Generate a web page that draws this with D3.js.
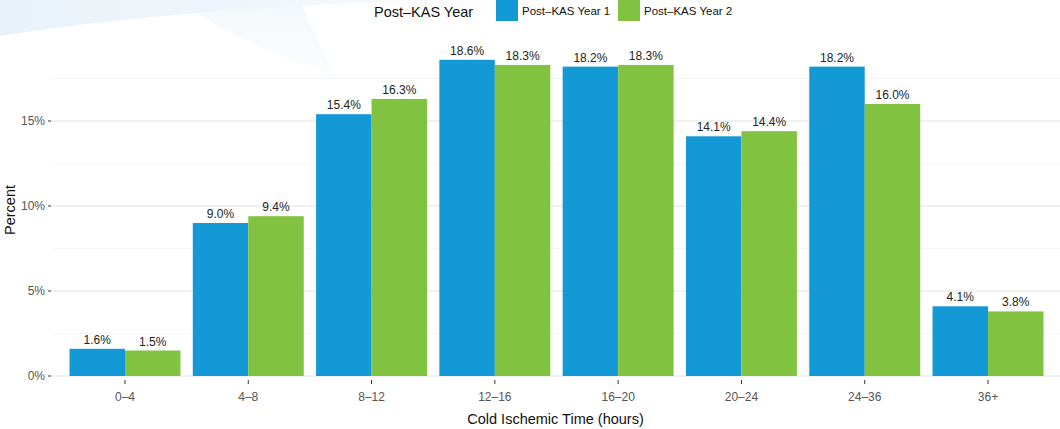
<!DOCTYPE html>
<html><head><meta charset="utf-8">
<script src="https://cdn.jsdelivr.net/npm/d3@7"></script>
<style>body{margin:0;background:#fff;font-family:"Liberation Sans",Arial,sans-serif}</style>
</head><body><svg id="c" width="1060" height="429"></svg>
<script>
const categories = ["0–4","4–8","8–12","12–16","16–20","20–24","24–36","36+"];
const seriesNames = ["Post–KAS Year 1","Post–KAS Year 2"];
const year1 = [1.6, 9.0, 15.4, 18.6, 18.2, 14.1, 18.2, 4.1];
const year2 = [1.5, 9.4, 16.3, 18.3, 18.3, 14.4, 16.0, 3.8];
const yTicks = [0, 5, 10, 15];
const yMinor = [2.5, 7.5, 12.5, 17.5];
const colors = ["#1399d6", "#81c341"];

const svg = d3.select("#c");
const W = 1060, H = 429;
const m = {l: 51, r: -2, t: 44, b: 53};
const defs = svg.append("defs");
const g1 = defs.append("linearGradient").attr("id","sw").attr("x1","0").attr("y1","0").attr("x2","1").attr("y2","0");
g1.append("stop").attr("offset","0").attr("stop-color","#e9f2f9");
g1.append("stop").attr("offset","0.6").attr("stop-color","#f0f6fb");
g1.append("stop").attr("offset","1").attr("stop-color","#f8fbfd");
const g2 = defs.append("linearGradient").attr("id","sw2").attr("x1","0").attr("y1","0").attr("x2","0").attr("y2","1");
g2.append("stop").attr("offset","0").attr("stop-color","#f3f8fc");
g2.append("stop").attr("offset","1").attr("stop-color","#fbfdfe");
svg.append("path").attr("d","M175,0 L300,0 C312,28 322,52 335,76 C265,52 215,26 175,0 Z").attr("fill","url(#sw2)");
svg.append("path").attr("d","M0,0 L0,36 C100,20 250,6 430,0 Z").attr("fill","url(#sw)");

const step = (W - m.r - m.l) / (categories.length - 1 + 1.2);
const cx = c => m.l + step * (0.6 + categories.indexOf(c));
const y = d3.scaleLinear().domain([0, 18.6 * 1.05]).range([H - m.b, m.t]);
const bw = step * 0.9 / 2;

const grid = svg.append("g");
yMinor.forEach(v => grid.append("line").attr("x1", m.l).attr("x2", W).attr("y1", y(v)).attr("y2", y(v)).attr("stroke", "#f2f2f2").attr("stroke-width", 0.8));
yTicks.forEach(v => grid.append("line").attr("x1", m.l).attr("x2", W).attr("y1", y(v)).attr("y2", y(v)).attr("stroke", "#e3e3e3").attr("stroke-width", 1.1));

const data = [year1, year2];
const bars = svg.append("g");
data.forEach((arr, si) => {
  arr.forEach((v, i) => {
    const x0 = cx(categories[i]) - bw + si * bw;
    bars.append("rect").attr("x", x0).attr("y", y(v)).attr("width", bw).attr("height", y(0) - y(v)).attr("fill", colors[si]);
    bars.append("text").attr("x", x0 + bw / 2).attr("y", y(v) - 5).attr("text-anchor", "middle")
      .attr("font-size", 12).attr("fill", "#222").text(v.toFixed(1) + "%");
  });
});

const ya = svg.append("g");
yTicks.forEach(v => {
  ya.append("line").attr("x1", m.l - 3).attr("x2", m.l).attr("y1", y(v)).attr("y2", y(v)).attr("stroke", "#333");
  ya.append("text").attr("x", m.l - 6).attr("y", y(v)).attr("dy", "0.35em").attr("text-anchor", "end")
    .attr("font-size", 12).attr("fill", "#555").text(v + "%");
});
const xa = svg.append("g");
categories.forEach(c => {
  xa.append("line").attr("x1", cx(c)).attr("x2", cx(c)).attr("y1", y(0) + 4).attr("y2", y(0) + 8).attr("stroke", "#333");
  xa.append("text").attr("x", cx(c)).attr("y", y(0) + 25).attr("text-anchor", "middle")
    .attr("font-size", 12).attr("fill", "#555").text(c);
});
svg.append("text").attr("x", (m.l + W) / 2).attr("y", 424).attr("text-anchor", "middle").attr("font-size", 14.5).attr("fill", "#111").text("Cold Ischemic Time (hours)");
svg.append("text").attr("transform", `translate(15,${(m.t + H - m.b) / 2}) rotate(-90)`).attr("text-anchor", "middle").attr("font-size", 14.5).attr("fill", "#111").text("Percent");

const lg = svg.append("g");
lg.append("text").attr("x", 374).attr("y", 17).attr("font-size", 14.5).attr("fill", "#111").text("Post–KAS Year");
const keyX = [496, 618];
seriesNames.forEach((s, i) => {
  lg.append("rect").attr("x", keyX[i]).attr("y", 0).attr("width", 22).attr("height", 21).attr("fill", colors[i]);
  lg.append("text").attr("x", keyX[i] + 26).attr("y", 15).attr("font-size", 11.5).attr("fill", "#111").text(s);
});
</script></body></html>
